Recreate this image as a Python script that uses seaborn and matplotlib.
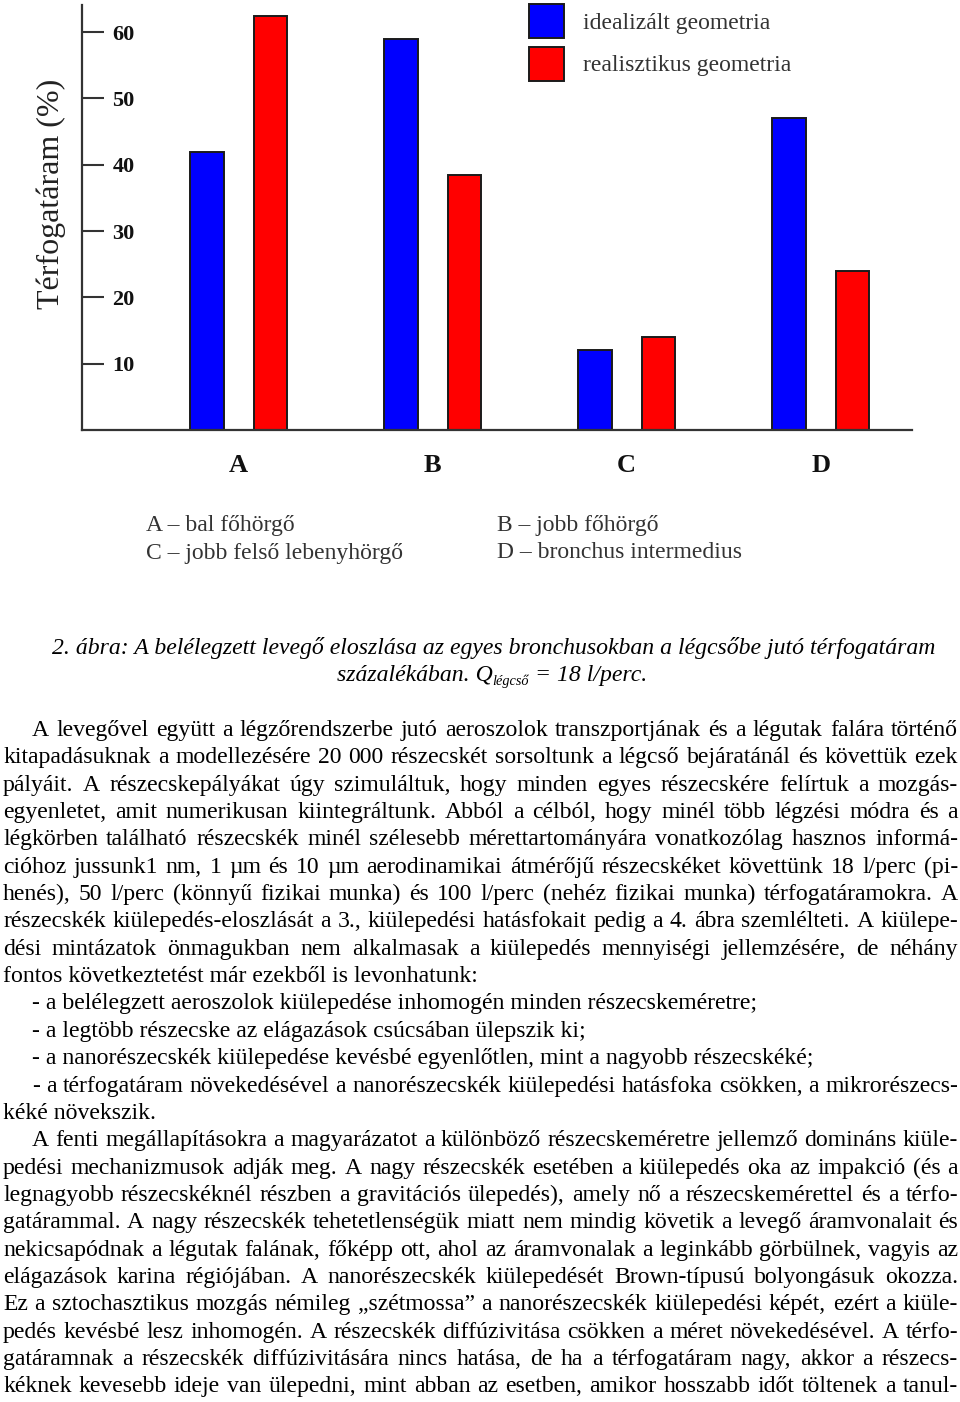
import numpy as np
import pandas as pd
import matplotlib
matplotlib.use("Agg")
import matplotlib.pyplot as plt
import seaborn as sns
from matplotlib.patches import Patch
from matplotlib.font_manager import FontProperties

# ---------------- data ----------------
categories = ["A", "B", "C", "D"]
series_names = ["idealizált geometria", "realisztikus geometria"]
idealized = [42, 59, 12, 47]
realistic = [62.5, 38.5, 14, 24]
y_ticks = [10, 20, 30, 40, 50, 60]
y_label = "Térfogatáram (%)"
notes_left = ["A – bal főhörgő", "C – jobb felső lebenyhörgő"]
notes_right = ["B – jobb főhörgő", "D – bronchus intermedius"]
caption_line1 = ("2. ábra: A belélegzett levegő eloszlása az egyes bronchusokban "
                 "a légcsőbe jutó térfogatáram")
caption_line2 = ["százalékában. Q", "légcső", "= 18 l/perc."]
body_lines = [
    "A levegővel együtt a légzőrendszerbe jutó aeroszolok transzportjának és a légutak falára történő",
    "kitapadásuknak a modellezésére 20 000 részecskét sorsoltunk a légcső bejáratánál és követtük ezek",
    "pályáit. A részecskepályákat úgy szimuláltuk, hogy minden egyes részecskére felírtuk a mozgás-",
    "egyenletet, amit numerikusan kiintegráltunk. Abból a célból, hogy minél több légzési módra és a",
    "légkörben található részecskék minél szélesebb mérettartományára vonatkozólag hasznos informá-",
    "cióhoz jussunk1 nm, 1 µm és 10 µm aerodinamikai átmérőjű részecskéket követtünk 18 l/perc (pi-",
    "henés), 50 l/perc (könnyű fizikai munka) és 100 l/perc (nehéz fizikai munka) térfogatáramokra. A",
    "részecskék kiülepedés-eloszlását a 3., kiülepedési hatásfokait pedig a 4. ábra szemlélteti. A kiülepe-",
    "dési mintázatok önmagukban nem alkalmasak a kiülepedés mennyiségi jellemzésére, de néhány",
    "fontos következtetést már ezekből is levonhatunk:",
    "- a belélegzett aeroszolok kiülepedése inhomogén minden részecskeméretre;",
    "- a legtöbb részecske az elágazások csúcsában ülepszik ki;",
    "- a nanorészecskék kiülepedése kevésbé egyenlőtlen, mint a nagyobb részecskéké;",
    "- a térfogatáram növekedésével a nanorészecskék kiülepedési hatásfoka csökken, a mikrorészecs-",
    "kéké növekszik.",
    "A fenti megállapításokra a magyarázatot a különböző részecskeméretre jellemző domináns kiüle-",
    "pedési mechanizmusok adják meg. A nagy részecskék esetében a kiülepedés oka az impakció (és a",
    "legnagyobb részecskéknél részben a gravitációs ülepedés), amely nő a részecskemérettel és a térfo-",
    "gatárammal. A nagy részecskék tehetetlenségük miatt nem mindig követik a levegő áramvonalait és",
    "nekicsapódnak a légutak falának, főképp ott, ahol az áramvonalak a leginkább görbülnek, vagyis az",
    "elágazások karina régiójában. A nanorészecskék kiülepedését Brown-típusú bolyongásuk okozza.",
    "Ez a sztochasztikus mozgás némileg „szétmossa” a nanorészecskék kiülepedési képét, ezért a kiüle-",
    "pedés kevésbé lesz inhomogén. A részecskék diffúzivitása csökken a méret növekedésével. A térfo-",
    "gatáramnak a részecskék diffúzivitására nincs hatása, de ha a térfogatáram nagy, akkor a részecs-",
    "kéknek kevesebb ideje van ülepedni, mint abban az esetben, amikor hosszabb időt töltenek a tanul-",
]
indented = {0, 10, 11, 12, 13, 15}
ragged = {9, 10, 11, 12, 14}

# ---------------- layout ----------------
W, H, DPI = 960, 1402, 100
FONT = ["Liberation Serif", "DejaVu Serif"]
sns.set_theme(style="white")
plt.rcParams["font.family"] = FONT

fig = plt.figure(figsize=(W / DPI, H / DPI), dpi=DPI)
fx = lambda px: px / W
fy = lambda py: 1 - py / H

ax = fig.add_axes([fx(82), fy(430), fx(912) - fx(82), fy(5) - fy(430)])
ax.set_facecolor("white")

df = pd.DataFrame({
    "kategória": categories * 2,
    "érték": idealized + realistic,
    "geometria": [series_names[0]] * len(categories) + [series_names[1]] * len(categories),
})
colors = ["#0000FF", "#FF0000"]
sns.barplot(data=df, x="kategória", y="érték", hue="geometria", palette=colors,
            saturation=1, width=0.656, gap=0.47, edgecolor="#1a1a1a",
            linewidth=1.4, ax=ax, legend=False, errorbar=None)

ax.set_xlim(-0.807, 3.47)
ax.set_ylim(0, 64.1)
sns.despine(ax=ax)
for s in ["left", "bottom"]:
    ax.spines[s].set_color("#333333")
    ax.spines[s].set_linewidth(1.6)

ax.set_yticks(y_ticks, labels=[str(t) for t in y_ticks], fontsize=16,
              fontweight="bold", ha="left", color="#111111")
ax.tick_params(axis="y", direction="in", length=16, width=1.5, color="#333333",
               pad=-22, left=True)
ax.set_xticks(range(len(categories)), labels=categories, fontsize=19,
              fontweight="bold", color="#111111")
ax.tick_params(axis="x", length=0, pad=17)
ax.set_xlabel("")
ax.set_ylabel(y_label, fontsize=23, color="#222222")
ax.yaxis.set_label_coords(-0.019, 0.5565)

handles = [Patch(facecolor=c, edgecolor="#1a1a1a", linewidth=1.4) for c in colors]
fig.legend(handles, series_names, loc="upper left",
           bbox_to_anchor=(fx(529), fy(4)), frameon=False, borderpad=0,
           borderaxespad=0, fontsize=17, handlelength=1.49, handleheight=1.84,
           labelspacing=0.36, handletextpad=0.81, labelcolor="#333333")

for i, t in enumerate(notes_left):
    fig.text(fx(146), fy(526 + 27 * i), t, va="center", ha="left",
             fontsize=17, color="#333333")
for i, t in enumerate(notes_right):
    fig.text(fx(497), fy(526 + 27 * i), t, va="center", ha="left",
             fontsize=17, color="#333333")

renderer = fig.canvas.get_renderer()


def tw(s, size, style="normal"):
    prop = FontProperties(family=FONT, size=size, style=style)
    w, h, d = renderer.get_text_width_height_descent(s, prop, ismath=False)
    return w


# caption
cap_size = 16 * 884 / tw(caption_line1, 16, "italic")
fig.text(fx(494), fy(654), caption_line1, ha="center", va="baseline",
         fontsize=cap_size, style="italic", color="black")
sub_size = cap_size * 0.6
space = cap_size * DPI / 72 * 0.25
w1 = tw(caption_line2[0], cap_size, "italic")
w2 = tw(caption_line2[1], sub_size, "italic")
w3 = tw(caption_line2[2], cap_size, "italic")
total = w1 + w2 + space + w3
x = 492 - total / 2
fig.text(fx(x), fy(681), caption_line2[0], ha="left", va="baseline",
         fontsize=cap_size, style="italic", color="black")
x += w1
fig.text(fx(x), fy(685), caption_line2[1], ha="left", va="baseline",
         fontsize=sub_size, style="italic", color="black")
x += w2 + space
fig.text(fx(x), fy(681), caption_line2[2], ha="left", va="baseline",
         fontsize=cap_size, style="italic", color="black")

# body text
targets = {9: 478 - 3, 10: 757 - 32, 11: 585 - 32, 12: 813 - 32, 14: 153 - 3}
ref = sum(tw(body_lines[k], 16) for k in targets)
body_size = 16 * sum(targets.values()) / ref
right_edge = 958
first_base = 736
step = 27.35
for i, line in enumerate(body_lines):
    y = first_base + i * step
    x0 = 32 if i in indented else 3
    if i in ragged:
        fig.text(fx(x0), fy(y), line, ha="left", va="baseline",
                 fontsize=body_size, color="black")
        continue
    words = line.split(" ")
    widths = [tw(wd, body_size) for wd in words]
    gap = (right_edge - x0 - sum(widths)) / (len(words) - 1)
    x = x0
    for wd, wdt in zip(words, widths):
        fig.text(fx(x), fy(y), wd, ha="left", va="baseline",
                 fontsize=body_size, color="black")
        x += wdt + gap

fig.savefig("out.png", dpi=DPI, facecolor="white")
